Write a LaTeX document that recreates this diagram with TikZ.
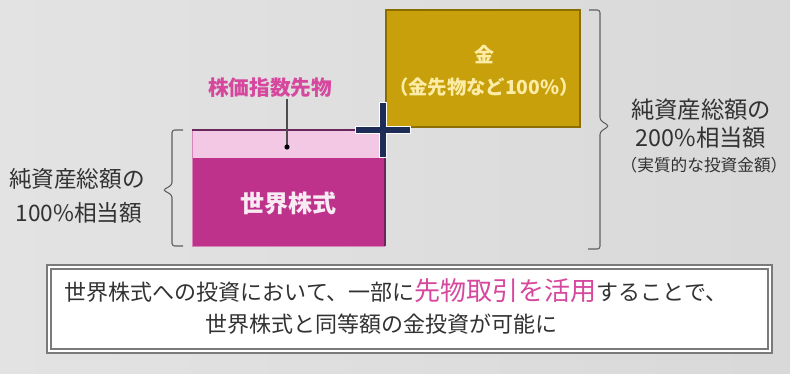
\documentclass[tikz,border=0pt]{standalone}
\usepackage{fontspec}
\setmainfont{Noto Sans CJK JP}
\usepackage{xcolor}
\usepackage{tikz}

\definecolor{stockpink}{RGB}{190,50,140}
\definecolor{bandpink}{RGB}{242,200,228}
\definecolor{edgepurple}{RGB}{105,40,90}
\definecolor{goldfill}{RGB}{200,160,12}
\definecolor{goldedge}{RGB}{140,110,0}
\definecolor{goldtext}{RGB}{252,236,165}
\definecolor{labelpink}{RGB}{214,72,158}
\definecolor{plusnavy}{RGB}{30,45,88}
\definecolor{textgray}{RGB}{50,50,50}
\definecolor{bracegray}{RGB}{95,95,95}

\begin{document}
\begin{tikzpicture}[x=0.75pt,y=0.75pt,yscale=-1,xscale=1,
  every node/.style={inner sep=0.75pt},
  txt/.style={text=textgray,align=center},
  bracket/.style={draw=bracegray,line width=0.8pt,rounded corners=2pt}]

%Background
\shade [left color=black!11,middle color=black!2,right color=black!15] (0,0) rectangle (790,374);
\useasboundingbox (0,0) rectangle (790,374);

%Gold box
\draw [fill=goldfill,draw=goldedge,line width=0.9pt] (386,10) rectangle (580,127);
%Stock box
\fill [stockpink] (192,158) rectangle (385,246);
\fill [bandpink] (192,130) rectangle (385,158);
\draw [stockpink!60,line width=0.6pt] (192,130) -- (192,246) -- (385,246);
\draw [edgepurple,line width=1.6pt] (192,130) -- (385,130) -- (385,246);

%Plus sign
\coordinate (plus) at (383,130);
\draw [white,line width=6pt] ([xshift=-21]plus) -- ([xshift=21]plus) ([yshift=-21]plus) -- ([yshift=21]plus);
\draw [plusnavy,line width=4pt] ([xshift=-20]plus) -- ([xshift=20]plus) ([yshift=-20]plus) -- ([yshift=20]plus);

%Left bracket
\draw [bracket] (183,130) -- (172,130) -- (172,185) -- (163,190) -- (172,195) -- (172,246) -- (183,246);
%Right bracket
\draw [bracket] (589,10) -- (600,10) -- (600,120) -- (609,126) -- (600,132) -- (600,249) -- (588,249);

% Text Node
\node (futlabel) [text=labelpink,font=\fontsize{15.5}{18}\selectfont\bfseries] at (270,88) {株価指数先物};
\coordinate (futdot) at (287,147);
\draw [black!70,line width=0.8pt] (futdot |- futlabel.south) -- (futdot);
\fill [black] (futdot) circle [radius=2.6];
% Text Node
\node (stock) [text=white!90!stockpink,font=\fontsize{18}{20}\selectfont\bfseries] at (288,203) {世界株式};
% Text Node
\node (gold) [text=goldtext,font=\fontsize{15}{18}\selectfont\bfseries] at (484,55) {金};
\node (goldsub) [text=goldtext,font=\fontsize{14.5}{18}\selectfont\bfseries] at (484,87) {（金先物など100\%）};
% Text Node
\node (left1) [txt,font=\fontsize{17}{20}\selectfont] at (77,179) {純資産総額の};
\node (left2) [txt,font=\fontsize{17}{20}\selectfont] at (79,213) {100\%相当額};
% Text Node
\node (right1) [txt,font=\fontsize{17.5}{20}\selectfont] at (701,110) {純資産総額の};
\node (right2) [txt,font=\fontsize{17.5}{20}\selectfont] at (701,138) {200\%相当額};
\node (right3) [txt,font=\fontsize{12.5}{14}\selectfont] at (704,165) {（実質的な投資金額）};

%Note box
\draw [fill=white,draw=black!52,line width=1.8pt,double=white,double distance=1pt] (49,267) rectangle (770,351);
% Text Node
\node (note1) [txt,font=\fontsize{16.5}{20}\selectfont] at (396,291) {世界株式への投資において、一部に{\color{labelpink}\fontsize{19.5}{20}\selectfont 先物取引を活用}することで、};
\node (note2) [txt,font=\fontsize{16.5}{20}\selectfont] at (381,324) {世界株式と同等額の金投資が可能に};

\end{tikzpicture}
\end{document}
